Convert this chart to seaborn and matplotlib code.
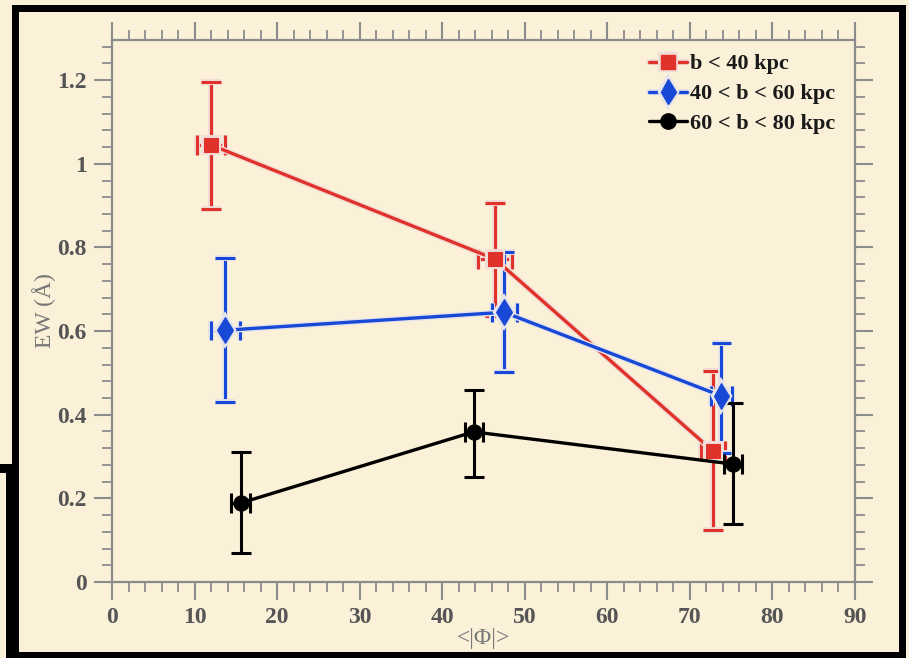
import matplotlib
matplotlib.use("Agg")
import matplotlib.pyplot as plt
import matplotlib.patheffects as pe
from matplotlib.lines import Line2D
from matplotlib.patches import Rectangle
from matplotlib.ticker import MultipleLocator, FixedLocator, FixedFormatter
import numpy as np
import pandas as pd
import seaborn as sns

# Mean azimuthal angle <|Phi|> and equivalent width per impact-parameter bin
series_names = ["b < 40 kpc", "40 < b < 60 kpc", "60 < b < 80 kpc"]

phi_red = [12.0, 46.4, 72.8]
ew_red = [1.045, 0.772, 0.313]
ew_red_low = [0.892, 0.635, 0.124]
ew_red_high = [1.195, 0.906, 0.504]
phi_red_err = [1.7, 2.1, 1.5]

phi_blue = [13.7, 47.5, 73.8]
ew_blue = [0.602, 0.645, 0.445]
ew_blue_low = [0.430, 0.502, 0.308]
ew_blue_high = [0.775, 0.789, 0.571]
phi_blue_err = [1.75, 1.5, 1.3]

phi_black = [15.6, 43.8, 75.2]
ew_black = [0.189, 0.359, 0.282]
ew_black_low = [0.069, 0.251, 0.139]
ew_black_high = [0.311, 0.459, 0.428]
phi_black_err = [1.15, 1.1, 1.1]

x_ticks = [0, 10, 20, 30, 40, 50, 60, 70, 80, 90]
y_ticks = [0, 0.2, 0.4, 0.6, 0.8, 1.0, 1.2]
y_tick_labels = ["0", "0.2", "0.4", "0.6", "0.8", "1", "1.2"]

paper = "#fbf0d8"
axis_gray = "#8c8c8c"
label_gray = "#555555"

sns.set_theme(style="ticks")
plt.rcParams["font.family"] = ["Liberation Serif", "DejaVu Serif"]

fig = plt.figure(figsize=(9.09, 6.58), dpi=100, facecolor=paper)
ax = fig.add_axes([112 / 909, 1 - 582 / 658, (855 - 112) / 909, (582 - 40) / 658])
ax.set_facecolor(paper)

groups = [
    (series_names[0], phi_red, ew_red, ew_red_low, ew_red_high, phi_red_err,
     "#e0322a", "s", 10, "#f1dcd6"),
    (series_names[1], phi_blue, ew_blue, ew_blue_low, ew_blue_high, phi_blue_err,
     "#1748d6", "d", 13, "#e6e4e8"),
    (series_names[2], phi_black, ew_black, ew_black_low, ew_black_high, phi_black_err,
     "#000000", "o", 11, None),
]

frames = []
for name, xs, ys, lo, hi, xe, *_ in groups:
    frames.append(pd.DataFrame({"phi": xs, "ew": ys, "bin": name}))
df = pd.concat(frames, ignore_index=True)

palette = {g[0]: g[6] for g in groups}
markers = {g[0]: g[7] for g in groups}

sns.lineplot(data=df, x="phi", y="ew", hue="bin", style="bin",
             palette=palette, markers=markers, dashes=False,
             markersize=12, linewidth=2.4, legend=False, ax=ax,
             sort=False, estimator=None, zorder=3)

# Per-series error bars and marker sizes, with a pale halo on colored series
for line, g in zip(ax.get_lines(), groups):
    name, xs, ys, lo, hi, xe, col, mk, ms, halo = g
    line.set_markersize(ms)
    line.set_markeredgecolor(col)
    if halo:
        line.set_path_effects([pe.Stroke(linewidth=4.4, foreground=halo), pe.Normal()])
    yerr = np.array([np.array(ys) - np.array(lo), np.array(hi) - np.array(ys)])
    eb = ax.errorbar(xs, ys, yerr=yerr, xerr=xe, fmt="none", ecolor=col,
                     elinewidth=2.2, capsize=7, capthick=2.2, zorder=2)
    if halo:
        for art in list(eb.lines[1]) + list(eb.lines[2]):
            art.set_path_effects([pe.Stroke(linewidth=4.2, foreground=halo), pe.Normal()])

ax.set_xlim(0, 90)
ax.set_ylim(0, 1.296)

ax.xaxis.set_major_locator(FixedLocator(x_ticks))
ax.xaxis.set_minor_locator(MultipleLocator(2))
ax.yaxis.set_major_locator(FixedLocator(y_ticks))
ax.yaxis.set_major_formatter(FixedFormatter(y_tick_labels))
ax.yaxis.set_minor_locator(MultipleLocator(0.04))

ax.tick_params(which="both", direction="out", color=axis_gray,
               top=True, right=True, labeltop=False, labelright=False)
ax.tick_params(which="major", length=13, width=1.5, pad=5,
               labelsize=17, labelcolor=label_gray)
ax.tick_params(which="minor", length=7, width=1.3)
for lab in ax.get_xticklabels() + ax.get_yticklabels():
    lab.set_fontweight("bold")

for sp in ax.spines.values():
    sp.set_visible(True)
    sp.set_color(axis_gray)
    sp.set_linewidth(1.6)

ax.set_xlabel("<|Φ|>", fontsize=17, color="#777777", labelpad=0)
ax.set_ylabel("EW (Å)", fontsize=17, color="#777777", labelpad=1)

handles = [
    Line2D([], [], color=g[6], marker=g[7], markersize=g[8], linewidth=2.4,
           markeredgecolor=g[6],
           path_effects=[pe.Stroke(linewidth=4.4, foreground=g[9]), pe.Normal()] if g[9] else None)
    for g in groups
]
leg = ax.legend(handles, series_names, loc="upper right", frameon=False,
                bbox_to_anchor=(0.995, 1.003), handlelength=1.7, handletextpad=0.15,
                labelspacing=0.42, borderaxespad=0.3,
                prop={"family": "Liberation Serif", "weight": "bold", "size": 16})
for t in leg.get_texts():
    t.set_color("#1a1a1a")

# Black slide frame around the chart
W, H = 909, 658
def bar(x0, y0, x1, y1):
    fig.patches.append(Rectangle((x0 / W, 1 - y1 / H), (x1 - x0) / W, (y1 - y0) / H,
                                 transform=fig.transFigure, facecolor="black",
                                 edgecolor="none", zorder=10))
bar(12, 5, 906, 12)
bar(12, 5, 19, 658)
bar(899, 5, 906, 655)
bar(12, 652, 906, 658)
bar(0, 464, 19, 473)
bar(6, 473, 19, 658)

fig.savefig("out.png", dpi=100, facecolor=paper)
